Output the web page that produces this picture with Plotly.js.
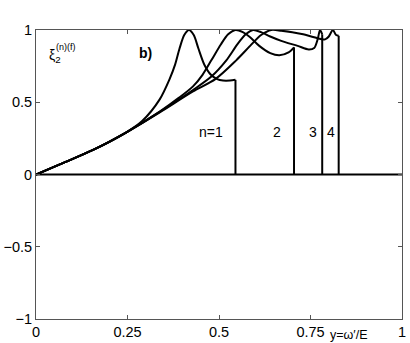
<!DOCTYPE html>
<html>
<head>
<meta charset="utf-8">
<script src="https://cdn.plot.ly/plotly-3.0.1.min.js"></script>
<style>
  body { margin: 0; background: #fff; }
  #myDiv { width: 410px; height: 343px; }
</style>
</head>
<body>
<div id="myDiv"></div>
<script>
// curves xi_2^(n)(f) vs y
var x1 = [0, 0.065, 0.156, 0.247, 0.29, 0.338, 0.365, 0.38, 0.392, 0.405, 0.418, 0.431, 0.444, 0.46, 0.478, 0.495, 0.511, 0.53, 0.545];
var y1 = [0, 0.07, 0.17, 0.292, 0.37, 0.52, 0.66, 0.76, 0.87, 0.965, 1.0, 0.965, 0.87, 0.76, 0.69, 0.66, 0.65, 0.65, 0.655];

var x2 = [0, 0.065, 0.156, 0.247, 0.338, 0.39, 0.429, 0.455, 0.479, 0.505, 0.525, 0.545, 0.565, 0.585, 0.61, 0.64, 0.665, 0.69, 0.705];
var y2 = [0, 0.07, 0.17, 0.292, 0.435, 0.53, 0.61, 0.69, 0.79, 0.9, 0.97, 1.0, 0.985, 0.95, 0.89, 0.84, 0.825, 0.845, 0.88];

var x3 = [0, 0.065, 0.156, 0.247, 0.338, 0.429, 0.48, 0.52, 0.55, 0.573, 0.593, 0.615, 0.64, 0.67, 0.715, 0.745, 0.76, 0.77, 0.776, 0.782];
var y3 = [0, 0.07, 0.17, 0.292, 0.433, 0.585, 0.68, 0.79, 0.9, 0.97, 1.0, 0.985, 0.955, 0.925, 0.89, 0.865, 0.875, 0.94, 1.0, 0.97];

var x4 = [0, 0.065, 0.156, 0.247, 0.338, 0.429, 0.49, 0.547, 0.585, 0.615, 0.643, 0.67, 0.70, 0.73, 0.76, 0.79, 0.80, 0.811, 0.82, 0.827];
var y4 = [0, 0.07, 0.17, 0.292, 0.43, 0.575, 0.66, 0.79, 0.89, 0.965, 1.0, 0.995, 0.985, 0.97, 0.95, 0.935, 0.955, 1.0, 0.965, 0.96];

var curves = [[x1, y1], [x2, y2], [x3, y3], [x4, y4]];
var labels = ['n=1', '2', '3', '4'];
var labelX = [0.479, 0.659, 0.757, 0.807];
var labelY = [0.297, 0.297, 0.297, 0.297];

var tickVals = [0, 0.25, 0.5, 0.75, 1];
var tickText = ['0', '0.25', '0.5', '0.75', '1'];
var yTickVals = [-1, -0.5, 0, 0.5, 1];

var line = {color: '#000', width: 2};
var data = [];

// zero line across the whole range
data.push({x: [0, 1], y: [0, 0], mode: 'lines', line: line, hoverinfo: 'skip'});

curves.forEach(function (c) {
  var xs = c[0], ys = c[1];
  var xe = xs[xs.length - 1], ye = ys[ys.length - 1];
  data.push({x: xs, y: ys, mode: 'lines', line: {color: '#000', width: 2, shape: 'spline', smoothing: 0.8}});
  // vertical drop at the threshold
  data.push({x: [xe, xe], y: [ye, 0], mode: 'lines', line: line});
});

var font = 'Liberation Sans, Arial';

var annotations = labels.map(function (t, i) {
  return {x: labelX[i], y: labelY[i], text: t, showarrow: false,
    font: {family: font, size: 14, color: '#000'}};
});

annotations.push({x: 0.299, y: 0.843, text: '<b>b)</b>', showarrow: false,
  font: {family: font, size: 14, color: '#000'}});
annotations.push({x: 0.03, y: 0.82, xanchor: 'left', text: 'ξ<sub>2</sub>', showarrow: false,
  font: {family: font, size: 14, color: '#000'}});
annotations.push({x: 0.05, y: 0.885, xanchor: 'left', text: '(n)(f)', showarrow: false,
  font: {family: font, size: 9, color: '#000'}});
annotations.push({xref: 'paper', yref: 'paper', x: 0.854, y: -0.055, xanchor: 'center', yanchor: 'middle',
  text: 'y=ω′/E', showarrow: false,
  font: {family: font, size: 12.5, color: '#000'}});

var layout = {
  width: 410,
  height: 343,
  margin: {l: 36, r: 8, t: 30, b: 24},
  showlegend: false,
  paper_bgcolor: '#fff',
  plot_bgcolor: '#fff',
  font: {family: font, size: 14, color: '#000'},
  xaxis: {
    range: [0, 1],
    tickvals: tickVals,
    ticktext: tickText,
    tickfont: {size: 14.5},
    ticks: 'inside',
    ticklen: 4,
    tickcolor: '#555',
    showline: true,
    linecolor: '#555',
    mirror: 'ticks',
    showgrid: false,
    zeroline: false,
    fixedrange: true
  },
  yaxis: {
    range: [-1, 1],
    tickvals: yTickVals,
    tickfont: {size: 14.5},
    ticks: 'inside',
    ticklen: 4,
    tickcolor: '#555',
    showline: true,
    linecolor: '#555',
    mirror: 'ticks',
    showgrid: false,
    zeroline: false,
    fixedrange: true
  },
  annotations: annotations
};

Plotly.newPlot('myDiv', data, layout, {displayModeBar: false, staticPlot: true});
</script>
</body>
</html>
